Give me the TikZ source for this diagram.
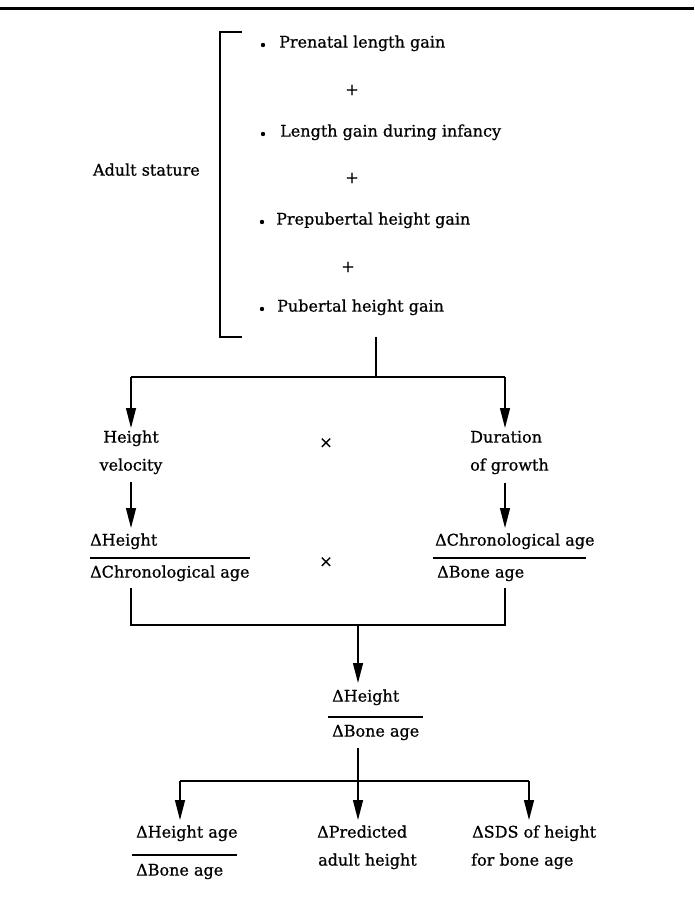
\documentclass[tikz,border=0pt]{standalone}
\usepackage{fontspec}
\setmainfont{DejaVu Serif}[FakeBold=0.7]
\usetikzlibrary{arrows.meta}
\begin{document}
\begin{tikzpicture}[x=1pt,y=-1pt,
  lbl/.style={inner sep=0pt, font=\fontsize{16}{19}\selectfont},
  ln/.style={line width=1.4pt},
  arr/.style={ln,-{Triangle[length=20pt,width=10pt]}},
  dot/.style={fill=black},
]
\useasboundingbox (0,0) rectangle (694,909);
\fill[white] (0,0) rectangle (694,909);
\draw[line width=3pt] (0,9) -- (694,9);

% ---- bracket ----
\draw[ln] (242,32) -- (220,32) -- (220,337) -- (242,337);
\node[lbl, anchor=mid east] (adult) at (200,173) {Adult stature};

\fill[dot] (263,45) circle (2.2pt);
\node[lbl, anchor=mid west] (pre) at (279,45) {Prenatal length gain};
\node[lbl] (p1) at (352,90) {+};
\fill[dot] (263,134) circle (2.2pt);
\node[lbl, anchor=mid west] (inf) at (280,134) {Length gain during infancy};
\node[lbl] (p2) at (352,178) {+};
\fill[dot] (262,222) circle (2.2pt);
\node[lbl, anchor=mid west] (prep) at (276,222) {Prepubertal height gain};
\node[lbl] (p3) at (348,267) {+};
\fill[dot] (262,309) circle (2.2pt);
\node[lbl, anchor=mid west] (pub) at (277,309) {Pubertal height gain};

% ---- first split ----
\coordinate (stemtop) at (376,337);
\coordinate (bar1) at (376,377);
\coordinate (bar1l) at (131,377);
\coordinate (bar1r) at (505,377);
\coordinate (tipL) at (131,428);
\coordinate (tipR) at (505,428);
\draw[ln] (stemtop) -- (bar1);
\draw[ln] (bar1l) -- (bar1r);
\draw[arr] (bar1l) -- (tipL);
\draw[arr] (bar1r) -- (tipR);

\node[lbl, anchor=mid] (hv1) at (131,440) {Height};
\node[lbl, anchor=mid] (hv2) at (131,468) {velocity};
\node[lbl] (x1) at (326,443) {×};
\node[lbl, anchor=mid west] (dg1) at (470,440) {Duration};
\node[lbl, anchor=mid west] (dg2) at (470,468) {of growth};

\coordinate (aLs) at (131,482);
\coordinate (aLt) at (131,528);
\coordinate (aRs) at (505,483);
\coordinate (aRt) at (505,528);
\draw[arr] (aLs) -- (aLt);
\draw[arr] (aRs) -- (aRt);

% ---- fractions row ----
\node[lbl, anchor=mid west] (fLn) at (90,543) {ΔHeight};
\draw[ln] (90,558) -- (250,558);
\node[lbl, anchor=mid west] (fLd) at (90,575) {ΔChronological age};
\node[lbl] (x2) at (326,562) {×};
\node[lbl, anchor=mid west] (fRn) at (435,543) {ΔChronological age};
\draw[ln] (433,558) -- (586,558);
\node[lbl, anchor=mid west] (fRd) at (437,575) {ΔBone age};

\coordinate (sL) at (131,588);
\coordinate (sR) at (505,588);
\coordinate (bar2l) at (131,625);
\coordinate (bar2r) at (505,625);
\coordinate (bar2) at (358,625);
\coordinate (tipC) at (358,683);
\draw[ln] (sL) -- (bar2l) -- (bar2r) -- (sR);
\draw[arr] (bar2) -- (tipC);

% ---- central fraction ----
\node[lbl, anchor=mid west] (cn) at (332,699) {ΔHeight};
\draw[ln] (328,717) -- (423,717);
\node[lbl, anchor=mid west] (cd) at (332,734) {ΔBone age};

\coordinate (s3) at (358,748);
\coordinate (bar3) at (358,781);
\coordinate (bar3l) at (180,781);
\coordinate (bar3r) at (529,781);
\coordinate (t3l) at (180,820);
\coordinate (t3c) at (358,820);
\coordinate (t3r) at (529,820);
\draw[ln] (s3) -- (bar3);
\draw[ln] (bar3l) -- (bar3r);
\draw[arr] (bar3l) -- (t3l);
\draw[arr] (bar3) -- (t3c);
\draw[arr] (bar3r) -- (t3r);

% ---- bottom row ----
\node[lbl, anchor=mid west] (hn) at (136,835) {ΔHeight age};
\draw[ln] (132,855) -- (237,855);
\node[lbl, anchor=mid west] (hd) at (136,873) {ΔBone age};
\node[lbl, anchor=mid west] (pa1) at (317,835) {ΔPredicted};
\node[lbl, anchor=mid west] (pa2) at (318,863) {adult height};
\node[lbl, anchor=mid west] (sd1) at (472,835) {ΔSDS of height};
\node[lbl, anchor=mid west] (sd2) at (471,863) {for bone age};
\end{tikzpicture}
\end{document}
